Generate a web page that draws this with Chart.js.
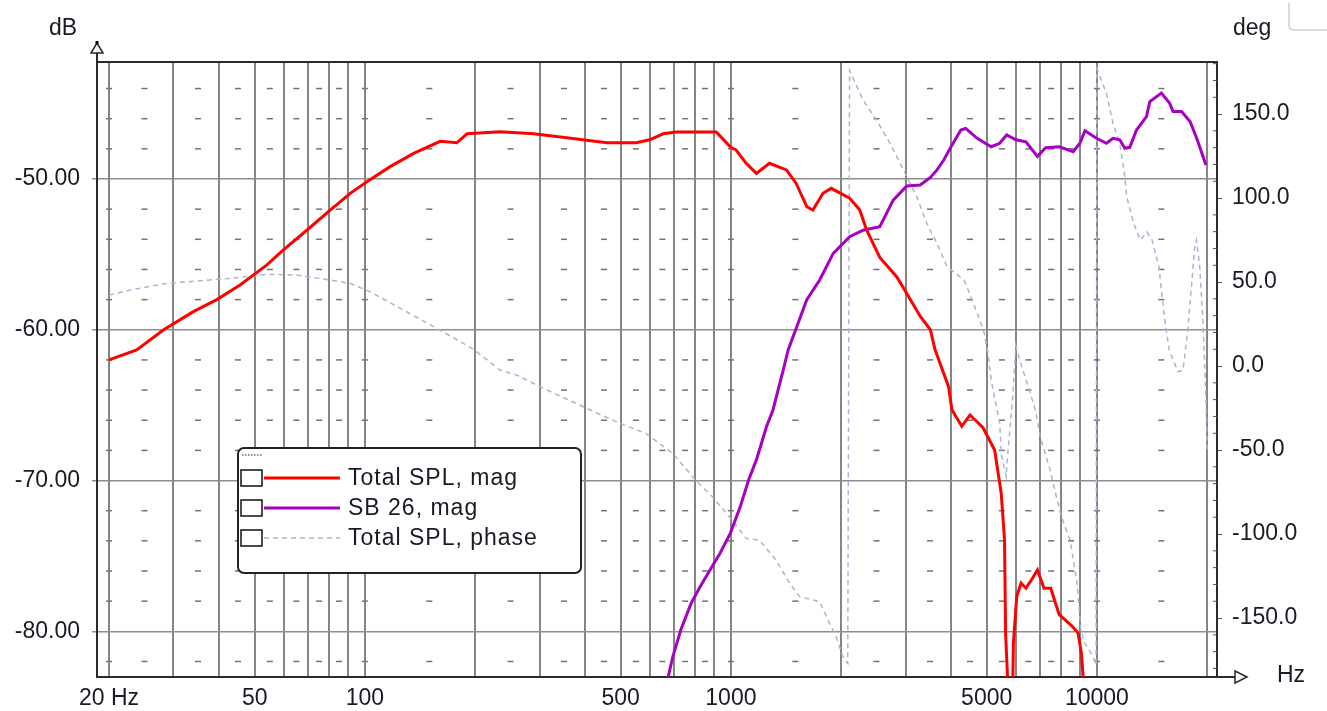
<!DOCTYPE html>
<html>
<head>
<meta charset="utf-8">
<script src="https://cdn.jsdelivr.net/npm/chart.js@4.4.1/dist/chart.umd.min.js"></script>
<style>
  body { margin: 0; background: #fff; }
  #wrap { width: 1327px; height: 711px; position: relative; }
</style>
</head>
<body>
<div id="wrap"><canvas id="responseChart"></canvas></div>
<script>
// Total SPL, magnitude (dB)
let splFreq = [20, 23.8, 28.2, 34, 39.4, 45.6, 54, 59.9, 69.4, 80.4, 91.2, 101.3, 117.2, 135.9, 160.6, 178.3, 190.2,
  234, 289, 356, 458, 551, 600, 653, 710, 912, 996, 1034, 1101, 1174, 1274, 1418, 1507, 1612, 1675, 1785, 1880,
  2111, 2250, 2350, 2552, 2840, 3024, 3290, 3508, 3610, 3933, 4016, 4274, 4500, 4885, 5255, 5478, 5593, 5630,
  5710, 5800, 5890, 5914, 6039, 6205, 6400, 6670, 6880, 7170, 7480, 7890, 8510, 8880, 9070, 9170, 9300];
let splMag = [-62.0, -61.34, -60.0, -58.8, -58.0, -57.03, -55.7, -54.7, -53.4, -52.06, -50.95, -50.18, -49.18, -48.3, -47.5, -47.6, -47.0,
  -46.86, -47.0, -47.26, -47.6, -47.6, -47.4, -47.0, -46.88, -46.88, -47.86, -48.08, -48.96, -49.63, -48.96, -49.4, -50.28, -51.84, -52.06, -50.95, -50.62,
  -51.28, -52.06, -53.4, -55.2, -56.5, -57.6, -59.1, -60.0, -61.3, -63.77, -65.3, -66.4, -65.65, -66.5, -67.97, -70.84, -73.94, -80.1,
  -83.5, -95, -83.5, -80.8, -77.7, -76.8, -77.14, -76.48, -75.93, -77.14, -77.14, -78.9, -79.6, -80.1, -81.45, -83.0, -95];

// SB 26, magnitude (dB)
let sbFreq = [640, 676, 694, 730, 780, 824, 877, 935, 996, 1061, 1118, 1174, 1251, 1304, 1346, 1390, 1434, 1612, 1748,
  1904, 2111, 2297, 2552, 2777, 3024, 3291, 3508, 3657, 3817, 3974, 4250, 4380, 4710, 5144, 5426, 5668, 6009, 6400,
  6880, 7246, 7890, 8617, 8986, 9277, 9976, 10620, 11070, 11550, 11920, 12300, 12830, 13660, 13950, 15010, 15810,
  16150, 17040, 17990, 18800, 19860];
let sbMag = [-86, -82.9, -81.68, -79.9, -78.1, -77.04, -75.93, -74.8, -73.5, -71.73, -69.96, -68.63, -66.43, -65.3, -63.99, -62.67, -61.34, -58.0, -56.7,
  -54.93, -53.83, -53.4, -53.16, -51.4, -50.46, -50.4, -49.9, -49.4, -48.74, -47.96, -46.75, -46.64, -47.3, -47.86, -47.63, -47.08, -47.4, -47.53,
  -48.5, -47.92, -47.86, -48.19, -47.63, -46.8, -47.3, -47.63, -47.3, -47.4, -47.96, -47.9, -46.75, -45.87, -44.87, -44.3, -44.98,
  -45.53, -45.53, -46.2, -47.4, -49.07];

// Total SPL, phase (deg)
let phaseFreq = [20, 22.8, 28.7, 34.7, 42.9, 54, 65.2, 80.4, 91.2, 103.4, 127.5, 157.4, 198, 234, 260, 301, 395, 497, 586,
  694, 801, 890, 990, 1101, 1196, 1329, 1448, 1541, 1748, 1861, 1940, 2022, 2086, 2110, 2297, 2500, 2721, 2901, 3024,
  3221, 3431, 3657, 3897, 4337, 4526, 4825, 4927, 5040, 5144, 5250, 5427, 5478, 5650, 5700, 5890, 6005, 6190, 6450,
  6790, 7000, 7450, 7750, 8000, 8450, 8830, 9040, 9270, 9770, 9950, 10000, 10620, 11070, 11550, 11920, 12070, 12600,
  13150, 13700, 14150, 14770, 15250, 15760, 16650, 17200, 17750, 18510, 18710, 19100, 19520, 19860, 20000];
let phaseDeg = [42.3, 45.2, 49.2, 50.6, 52.2, 54.6, 54.2, 51.2, 49.2, 44.2, 33.3, 22.4, 10.0, -2.4, -5.4, -12.3, -24.2, -34.1, -40.1,
  -52.0, -67.9, -77.8, -89.7, -102.6, -103.6, -115.5, -129.4, -137.3, -140.3, -153.2, -161.1, -173.0, -177.0, 176, 158.3, 146.4, 132.6, 120.6, 112.7,
  100.8, 84.9, 73.0, 59.1, 51.2, 41.3, 25.4, 19.4, 7.6, -8.3, -18.3, -34.1, -52.0, -65.9, -54, -18.3, 12, 1.6, -10.3,
  -26.2, -42.1, -61.9, -77.8, -89.7, -103.6, -129.4, -157.1, -165, -173, -178, 177, 162.3, 144.4, 132.6, 112.7, 100.8, 84.9,
  75, 79.9, 75, 59.1, 31.4, 9.5, -3.4, -2.4, 23.4, 71, 75, 59.1, 23.4, -18.3, -50];

let seriesLabels = ['Total SPL, mag', 'SB 26, mag', 'Total SPL, phase'];

// axes
let gridFreqs = [20, 30, 40, 50, 60, 70, 80, 90, 100, 200, 300, 400, 500, 600, 700, 800, 900,
  1000, 2000, 3000, 4000, 5000, 6000, 7000, 8000, 9000, 10000, 20000];
let freqLabels = {20: '20 Hz', 50: '50', 100: '100', 500: '500', 1000: '1000', 5000: '5000', 10000: '10000'};
let dbTicks = [-80, -70, -60, -50];
let degTicks = [-150, -100, -50, 0, 50, 100, 150];
let degMinorTicks = [-180, -170, -160, -140, -130, -120, -110, -90, -80, -70, -60, -40, -30, -20, -10,
  10, 20, 30, 40, 60, 70, 80, 90, 110, 120, 130, 140, 160, 170, 180];
// little grid dashes between the lines
let dashFreqs = [20, 25, 35, 45, 55, 65, 75, 85, 100, 150, 250, 350, 450, 550, 650, 750, 850,
  1000, 1500, 2500, 3500, 4500, 5500, 6500, 7500, 8500, 10000, 15000];
let dashLevels = [-82, -78, -76, -74, -72, -68, -66, -64, -62, -58, -56, -54, -52, -48, -46, -44];

const textColor = '#1a1a24';
const fontFamily = "'Liberation Sans', Arial, sans-serif";
const tickFont = { family: fontFamily, size: 23 };

function toPoints(xs, ys) {
    return xs.map(function (f, i) {
        return { x: f, y: ys[i] };
    });
}

let ctx = document.getElementById('responseChart').getContext('2d');
let chart;

const decorPlugin = {
    id: 'decor',
    beforeDatasetsDraw(chart) {
        const c = chart.ctx;
        const xs = chart.scales.x, ys = chart.scales.y;
        c.save();
        c.fillStyle = '#737373';
        for (const lv of dashLevels) {
            const py = ys.getPixelForValue(lv);
            for (const f of dashFreqs) {
                const px = xs.getPixelForValue(f);
                c.fillRect(px - 3, py - 0.75, 6, 1.5);
            }
        }
        c.restore();
    },
    afterDatasetsDraw(chart) {
        const c = chart.ctx;
        const a = chart.chartArea;
        const y2 = chart.scales.y2;
        c.save();
        c.strokeStyle = '#2a2a2a';
        c.lineWidth = 2;
        // top frame line
        c.beginPath();
        c.moveTo(a.left, a.top);
        c.lineTo(a.right, a.top);
        c.stroke();
        // axis extensions
        c.beginPath();
        c.moveTo(a.left, a.top);
        c.lineTo(a.left, a.top - 10);
        c.moveTo(a.right, a.bottom);
        c.lineTo(a.right + 18, a.bottom);
        c.stroke();
        // arrows
        c.lineWidth = 1.5;
        c.fillStyle = '#fff';
        c.beginPath();
        c.moveTo(a.left, a.top - 19);
        c.lineTo(a.left - 6, a.top - 9);
        c.lineTo(a.left + 6, a.top - 9);
        c.closePath();
        c.fill();
        c.stroke();
        c.fillStyle = '#000';
        c.fillRect(a.left - 1.5, a.top - 21, 3, 3);
        c.fillStyle = '#fff';
        c.beginPath();
        c.moveTo(a.right + 30, a.bottom);
        c.lineTo(a.right + 18, a.bottom - 6);
        c.lineTo(a.right + 18, a.bottom + 6);
        c.closePath();
        c.fill();
        c.stroke();
        // minor phase ticks inside the right border
        c.lineWidth = 1;
        c.strokeStyle = '#555';
        c.beginPath();
        for (const d of degMinorTicks) {
            const py = y2.getPixelForValue(d);
            c.moveTo(a.right - 4, py);
            c.lineTo(a.right, py);
        }
        c.stroke();

        // unit labels
        c.fillStyle = textColor;
        c.font = '23px ' + fontFamily;
        c.textBaseline = 'alphabetic';
        c.textAlign = 'left';
        c.fillText('dB', 49, 35);
        c.fillText('deg', 1233, 35);
        c.fillText('Hz', 1277, 682);

        // grey corner top right
        c.strokeStyle = '#cfcfcf';
        c.lineWidth = 1.5;
        c.beginPath();
        c.moveTo(1289, 3);
        c.lineTo(1289, 25);
        c.quadraticCurveTo(1289, 30, 1294, 30);
        c.lineTo(1327, 30);
        c.stroke();

        // legend
        const lx = 238, ly = 448, lw = 343, lh = 125;
        c.fillStyle = '#fff';
        c.strokeStyle = '#222';
        c.lineWidth = 2;
        c.beginPath();
        c.roundRect(lx, ly, lw, lh, 6);
        c.fill();
        c.stroke();
        c.lineWidth = 1;
        c.setLineDash([1.5, 1.5]);
        c.beginPath();
        c.moveTo(lx + 4, ly + 7);
        c.lineTo(lx + 25, ly + 7);
        c.stroke();
        c.setLineDash([]);
        chart.data.datasets.forEach(function (ds, i) {
            const cy = 478 + i * 30;
            c.strokeStyle = '#111';
            c.lineWidth = 1.5;
            c.strokeRect(lx + 3, cy - 8, 21, 16);
            c.strokeStyle = ds.borderColor;
            c.lineWidth = ds.borderWidth;
            c.setLineDash(ds.borderDash || []);
            c.beginPath();
            c.moveTo(lx + 26, cy);
            c.lineTo(lx + 102, cy);
            c.stroke();
            c.setLineDash([]);
            c.fillStyle = textColor;
            c.font = '23px ' + fontFamily;
            c.letterSpacing = '1px';
            c.textBaseline = 'middle';
            c.fillText(ds.label, lx + 110, cy + 1);
            c.letterSpacing = '0px';
        });
        c.restore();
    }
};

chart = new Chart(ctx, {
    type: 'line',
    data: {
        datasets: [
            {
                label: seriesLabels[0],
                data: toPoints(splFreq, splMag),
                borderColor: '#ff0000',
                borderWidth: 3,
                yAxisID: 'y',
                clip: 0
            },
            {
                label: seriesLabels[1],
                data: toPoints(sbFreq, sbMag),
                borderColor: '#a600c2',
                borderWidth: 3,
                yAxisID: 'y',
                clip: 0
            },
            {
                label: seriesLabels[2],
                data: toPoints(phaseFreq, phaseDeg),
                borderColor: '#a9b6d2',
                borderWidth: 1.5,
                borderDash: [5, 4],
                yAxisID: 'y2',
                clip: 0
            }
        ]
    },
    options: {
        responsive: true,
        maintainAspectRatio: false,
        animation: false,
        layout: { padding: { top: 62, left: 0, right: 0, bottom: 0 } },
        elements: { point: { radius: 0 }, line: { tension: 0 } },
        plugins: { legend: { display: false }, tooltip: { enabled: false } },
        scales: {
            x: {
                type: 'logarithmic',
                min: 18.54,
                max: 21290,
                afterBuildTicks: function (s) { s.ticks = gridFreqs.map(v => ({ value: v })); },
                afterFit: function (s) { s.height = 34; },
                ticks: {
                    autoSkip: false, maxRotation: 0, padding: 8,
                    color: textColor, font: tickFont,
                    callback: v => freqLabels[v] || ''
                },
                grid: { color: '#858585', lineWidth: 2, drawTicks: false },
                border: { color: '#2a2a2a', width: 2 }
            },
            y: {
                position: 'left',
                min: -83.03,
                max: -42.24,
                afterBuildTicks: function (s) { s.ticks = dbTicks.map(v => ({ value: v })); },
                afterFit: function (s) { s.width = 97; },
                ticks: { padding: 12, color: textColor, font: tickFont, callback: v => v.toFixed(2) },
                grid: { color: '#8e8e8e', lineWidth: 1.5, tickLength: 5 },
                border: { color: '#2a2a2a', width: 2 }
            },
            y2: {
                position: 'right',
                min: -185.1,
                max: 181,
                afterBuildTicks: function (s) { s.ticks = degTicks.map(v => ({ value: v })); },
                afterFit: function (s) { s.width = 110; },
                ticks: { padding: 10, color: textColor, font: tickFont, callback: v => v.toFixed(1) },
                grid: { drawOnChartArea: false, color: '#555', tickLength: 5 },
                border: { color: '#2a2a2a', width: 2 }
            }
        }
    },
    plugins: [decorPlugin]
});
</script>
</body>
</html>
